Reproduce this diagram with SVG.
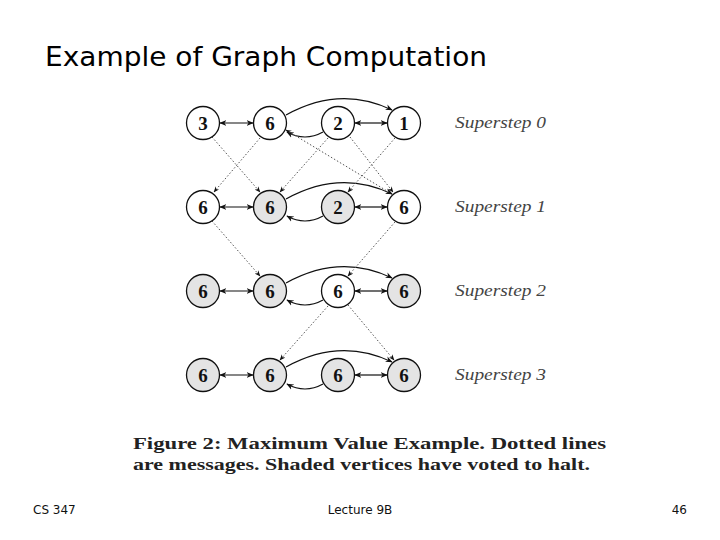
<svg xmlns="http://www.w3.org/2000/svg" width="720" height="540" viewBox="0 0 720 540">
<style>
.n{stroke:#111;stroke-width:1.3;fill:#fff}
.g{fill:#e4e4e4}
.t{font-family:"Liberation Serif",serif;font-weight:bold;font-size:19px;text-anchor:middle;fill:#111}
.s{stroke:#111;stroke-width:1.2;fill:none}
.d{stroke:#555;stroke-width:1;stroke-dasharray:1.5 2;fill:none}
.lab{font-family:"Liberation Serif",serif;font-style:italic;font-size:16px;fill:#444}
.cap{font-family:"Liberation Serif",serif;font-weight:bold;font-size:17px;fill:#222}
.f{font-family:"DejaVu Sans",sans-serif;font-size:12px;fill:#111}
</style>
<defs>
<marker id="a" viewBox="0 0 10 10" refX="9" refY="5" markerWidth="6" markerHeight="6" orient="auto-start-reverse"><path d="M0,1 L10,5 L0,9 L3,5z" fill="#111"/></marker>
</defs>
<rect width="720" height="540" fill="#fff"/>
<text x="45" y="66" font-family="DejaVu Sans,sans-serif" font-size="27" fill="#000" textLength="442" lengthAdjust="spacingAndGlyphs">Example of Graph Computation</text>
<g id="connectors">
<line class="s" x1="220" y1="123" x2="253" y2="123" marker-start="url(#a)" marker-end="url(#a)"/>
<line class="s" x1="355" y1="123" x2="387" y2="123" marker-start="url(#a)" marker-end="url(#a)"/>
<path class="s" d="M286,115 Q340,85 392,110" marker-end="url(#a)"/>
<path class="s" d="M323,132 Q305,142 287,132" marker-end="url(#a)"/>
<line class="s" x1="220" y1="207" x2="253" y2="207" marker-start="url(#a)" marker-end="url(#a)"/>
<line class="s" x1="355" y1="207" x2="387" y2="207" marker-start="url(#a)" marker-end="url(#a)"/>
<path class="s" d="M286,199 Q340,169 392,194" marker-end="url(#a)"/>
<path class="s" d="M323,216 Q305,226 287,216" marker-end="url(#a)"/>
<line class="s" x1="220" y1="291" x2="253" y2="291" marker-start="url(#a)" marker-end="url(#a)"/>
<line class="s" x1="355" y1="291" x2="387" y2="291" marker-start="url(#a)" marker-end="url(#a)"/>
<path class="s" d="M286,283 Q340,253 392,278" marker-end="url(#a)"/>
<path class="s" d="M323,300 Q305,310 287,300" marker-end="url(#a)"/>
<line class="s" x1="220" y1="375" x2="253" y2="375" marker-start="url(#a)" marker-end="url(#a)"/>
<line class="s" x1="355" y1="375" x2="387" y2="375" marker-start="url(#a)" marker-end="url(#a)"/>
<path class="s" d="M286,367 Q340,337 392,362" marker-end="url(#a)"/>
<path class="s" d="M323,384 Q305,394 287,384" marker-end="url(#a)"/>
<line class="d" x1="212" y1="137" x2="260" y2="192" marker-end="url(#a)"/>
<line class="d" x1="260" y1="138" x2="214" y2="192" marker-end="url(#a)"/>
<line class="d" x1="328" y1="138" x2="280" y2="192" marker-end="url(#a)"/>
<line class="d" x1="350" y1="137" x2="393" y2="192" marker-end="url(#a)"/>
<line class="d" x1="395" y1="138" x2="348" y2="192" marker-end="url(#a)"/>
<line class="d" x1="286" y1="130" x2="392" y2="194" marker-start="url(#a)" marker-end="url(#a)"/>
<line class="d" x1="212" y1="221" x2="260" y2="276" marker-end="url(#a)"/>
<line class="d" x1="395" y1="222" x2="348" y2="276" marker-end="url(#a)"/>
<line class="d" x1="328" y1="306" x2="280" y2="360" marker-end="url(#a)"/>
<line class="d" x1="348" y1="305" x2="394" y2="360" marker-end="url(#a)"/>
</g>
<g id="r0">
<g id="n00"><circle class="n" cx="203" cy="123" r="16.5"/><text class="t" x="203" y="130">3</text></g>
<g id="n01"><circle class="n" cx="270" cy="123" r="16.5"/><text class="t" x="270" y="130">6</text></g>
<g id="n02"><circle class="n" cx="338" cy="123" r="16.5"/><text class="t" x="338" y="130">2</text></g>
<g id="n03"><circle class="n" cx="404" cy="123" r="16.5"/><text class="t" x="404" y="130">1</text></g>
</g>
<g id="r1">
<g id="n10"><circle class="n" cx="203" cy="207" r="16.5"/><text class="t" x="203" y="214">6</text></g>
<g id="n11"><circle class="n g" cx="270" cy="207" r="16.5"/><text class="t" x="270" y="214">6</text></g>
<g id="n12"><circle class="n g" cx="338" cy="207" r="16.5"/><text class="t" x="338" y="214">2</text></g>
<g id="n13"><circle class="n" cx="404" cy="207" r="16.5"/><text class="t" x="404" y="214">6</text></g>
</g>
<g id="r2">
<g id="n20"><circle class="n g" cx="203" cy="291" r="16.5"/><text class="t" x="203" y="298">6</text></g>
<g id="n21"><circle class="n g" cx="270" cy="291" r="16.5"/><text class="t" x="270" y="298">6</text></g>
<g id="n22"><circle class="n" cx="338" cy="291" r="16.5"/><text class="t" x="338" y="298">6</text></g>
<g id="n23"><circle class="n g" cx="404" cy="291" r="16.5"/><text class="t" x="404" y="298">6</text></g>
</g>
<g id="r3">
<g id="n30"><circle class="n g" cx="203" cy="375" r="16.5"/><text class="t" x="203" y="382">6</text></g>
<g id="n31"><circle class="n g" cx="270" cy="375" r="16.5"/><text class="t" x="270" y="382">6</text></g>
<g id="n32"><circle class="n g" cx="338" cy="375" r="16.5"/><text class="t" x="338" y="382">6</text></g>
<g id="n33"><circle class="n g" cx="404" cy="375" r="16.5"/><text class="t" x="404" y="382">6</text></g>
</g>
<text class="lab" x="455" y="128" textLength="91" lengthAdjust="spacingAndGlyphs">Superstep 0</text>
<text class="lab" x="455" y="212" textLength="91" lengthAdjust="spacingAndGlyphs">Superstep 1</text>
<text class="lab" x="455" y="296" textLength="91" lengthAdjust="spacingAndGlyphs">Superstep 2</text>
<text class="lab" x="455" y="380" textLength="91" lengthAdjust="spacingAndGlyphs">Superstep 3</text>
<text class="cap" x="133" y="449" textLength="473" lengthAdjust="spacingAndGlyphs">Figure 2:  Maximum Value Example.  Dotted lines</text>
<text class="cap" x="133" y="470" textLength="457" lengthAdjust="spacingAndGlyphs">are messages.  Shaded vertices have voted to halt.</text>
<text class="f" x="33" y="514">CS 347</text>
<text class="f" x="360" y="514" text-anchor="middle">Lecture 9B</text>
<text class="f" x="687" y="514" text-anchor="end">46</text>
</svg>
